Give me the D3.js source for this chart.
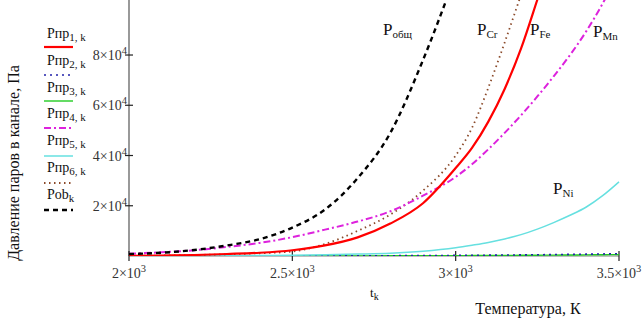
<!DOCTYPE html>
<html><head><meta charset="utf-8">
<script src="https://cdn.jsdelivr.net/npm/d3@7"></script>
<style>
html,body{margin:0;padding:0;background:#fff;}
text{font-family:"Liberation Serif","Times New Roman",serif;}
</style></head>
<body><svg id="c" width="644" height="321"></svg>
<script>
const temps = [2000,2100,2200,2300,2400,2500,2600,2700,2800,2900,3000,3050,3100,3150,3200,3250,3300,3350,3400,3450,3500];
const p1 = [100,200,400,800,1300,2300,4200,7400,12900,21000,35000,43000,53500,66500,82500,102000,122000,null,null,null,null];
const p2 = [0,2,5,10,18,30,50,80,120,170,240,280,330,380,440,500,570,650,730,820,920];
const p3 = [0,1,3,6,10,17,28,45,70,100,145,170,200,230,270,310,350,400,450,500,560];
const p4 = [900,1500,2300,3600,5200,7500,10500,13700,17800,24000,31500,36500,42500,49000,56000,63500,71500,80000,89500,100500,113000];
const p5 = [0,20,50,100,180,300,500,750,1100,1900,3300,4300,5400,6800,8500,10700,13300,16200,19500,24000,29500];
const p6 = [100,200,400,700,1100,1800,4800,10000,16500,26000,40000,51000,67000,85000,104000,124000,null,null,null,null,null];
const pob = [800,1300,2400,4200,6700,11300,18500,31000,49000,78000,112000,null,null,null,null,null,null,null,null,null,null];
const seriesNames = ["1","2","3","4","5","6"];
const xTicks = [2000,2500,3000,3500];
const xTickMant = ["2","2.5","3","3.5"];
const yTicks = [20000,40000,60000,80000];
const yTickMant = ["2","4","6","8"];

const svg = d3.select("#c");
const x = d3.scaleLinear().domain([2000,3500]).range([129,619]);
const y = d3.scaleLinear().domain([0,101900]).range([256,0]);

svg.append("clipPath").attr("id","clip").append("rect")
  .attr("x",129).attr("y",0).attr("width",491).attr("height",256);

const styles = [
  {data:p1,color:"#ff0000",w:2.2,dash:null},
  {data:p2,color:"#2222aa",w:1.6,dash:"2,4"},
  {data:p3,color:"#22cc22",w:1.4,dash:null},
  {data:p4,color:"#dd22dd",w:2,dash:"7,3,2,3"},
  {data:p5,color:"#66e0e0",w:1.5,dash:null},
  {data:p6,color:"#8b4a2a",w:1.8,dash:"1.5,3.5"},
  {data:pob,color:"#000000",w:2.4,dash:"5,4"}
];

// axes
const g = svg.append("g");
g.append("line").attr("x1",129).attr("x2",129).attr("y1",0).attr("y2",256).attr("stroke","#808080").attr("stroke-width",1.6);
g.append("line").attr("x1",129).attr("x2",619).attr("y1",256).attr("y2",256).attr("stroke","#808080").attr("stroke-width",1.2);

const lineGen = d => d3.line().defined(v=>v[1]!=null).x(v=>x(v[0])).y(v=>y(v[1])).curve(d3.curveMonotoneX)(temps.map((t,i)=>[t,d[i]]));
const plot = svg.append("g").attr("clip-path","url(#clip)");
[2,1,4,5,3,0,6].forEach(i=>{
  const s = styles[i];
  plot.append("path").attr("d",lineGen(s.data)).attr("fill","none")
    .attr("stroke",s.color).attr("stroke-width",s.w)
    .attr("stroke-dasharray",s.dash);
});

// ticks
xTicks.forEach((t,i)=>{
  g.append("line").attr("x1",x(t)).attr("x2",x(t)).attr("y1",251).attr("y2",261).attr("stroke","#222").attr("stroke-width",1.2);
  const tx = g.append("text").attr("x",x(t)).attr("y",278).attr("text-anchor","middle").attr("font-size",14).attr("fill","#333");
  tx.append("tspan").text(xTickMant[i]+"×10");
  tx.append("tspan").attr("dy",-6).attr("font-size",10.5).text("3");
});
yTicks.forEach((t,i)=>{
  g.append("line").attr("x1",125).attr("x2",133).attr("y1",y(t)).attr("y2",y(t)).attr("stroke","#222").attr("stroke-width",1.2);
  const tx = g.append("text").attr("x",127).attr("y",y(t)+5).attr("text-anchor","end").attr("font-size",14).attr("fill","#333");
  tx.append("tspan").text(yTickMant[i]+"×10");
  tx.append("tspan").attr("dy",-6).attr("font-size",10.5).text("4");
});

// legend
const legY = [38,65,92,118,145,172,199];
const legLineY = [47,75,101,128,156,183,210];
styles.forEach((s,i)=>{
  const t = svg.append("text").attr("x",47).attr("y",legY[i]).attr("font-size",14).attr("fill","#111");
  if(i<6){
    t.append("tspan").text("Рпр");
    t.append("tspan").attr("dy",3).attr("font-size",11).text(seriesNames[i]+", k");
  } else {
    t.append("tspan").text("Pob");
    t.append("tspan").attr("dy",3).attr("font-size",11).text("k");
  }
  svg.append("line").attr("x1",44).attr("x2",73).attr("y1",legLineY[i]).attr("y2",legLineY[i])
    .attr("stroke",s.color).attr("stroke-width",s.w).attr("stroke-dasharray",s.dash);
});

// axis titles
svg.append("text").attr("transform","translate(19,163) rotate(-90)").attr("text-anchor","middle")
  .attr("font-size",16).attr("fill","#111").text("Давление паров в канале, Па");
const tk = svg.append("text").attr("x",370).attr("y",297).attr("font-size",13).attr("fill","#111");
tk.append("tspan").text("t");
tk.append("tspan").attr("dy",3).attr("font-size",10).text("k");
svg.append("text").attr("x",528).attr("y",314).attr("text-anchor","middle").attr("font-size",16).attr("fill","#111").text("Температура, К");

// curve annotations
const ann = [["общ",383,35],["Cr",477,35],["Fe",530,35],["Mn",593,37],["Ni",553,194]];
ann.forEach(a=>{
  const t = svg.append("text").attr("x",a[1]).attr("y",a[2]).attr("font-size",17).attr("fill","#111");
  t.append("tspan").text("P");
  t.append("tspan").attr("dy",3).attr("font-size",11).text(a[0]);
});
</script></body></html>
